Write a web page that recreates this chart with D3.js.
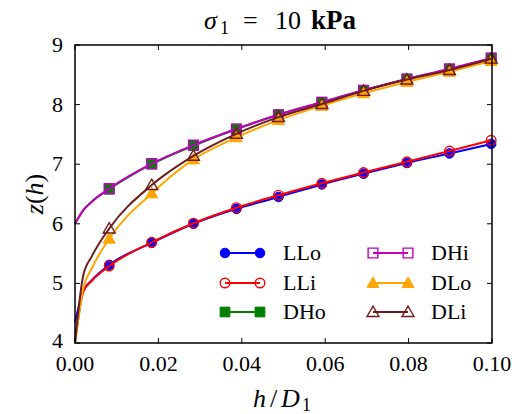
<!DOCTYPE html>
<html><head><meta charset="utf-8">
<script src="https://cdn.jsdelivr.net/npm/d3@7"></script>
<style>body{margin:0;background:#fff}svg{display:block}</style>
</head><body>
<script>
// ---- data ----
const hStart = [0, 0.002, 0.004];
const hMarkers = [0.0082, 0.0184, 0.0284, 0.0387, 0.0488, 0.0592, 0.0692, 0.0796, 0.0898, 0.0998];
const seriesNames = ["LLo", "LLi", "DHo", "DHi", "DLo", "DLi"];
const startLLo = [4.35, 4.87, 5.05];
const startLLi = [4.00, 4.86, 5.04];
const startDHo = [6.00, 6.23, 6.37];
const startDHi = [6.00, 6.23, 6.37];
const startDLo = [4.00, 4.92, 5.25];
const startDLi = [4.00, 5.14, 5.45];
const zLLo = [5.31, 5.68, 6.00, 6.25, 6.45, 6.66, 6.84, 7.02, 7.18, 7.34];
const zLLi = [5.29, 5.69, 6.01, 6.27, 6.48, 6.68, 6.86, 7.04, 7.22, 7.40];
const zDHo = [6.58, 7.00, 7.31, 7.59, 7.83, 8.04, 8.24, 8.43, 8.59, 8.78];
const zDHi = [6.59, 7.01, 7.32, 7.59, 7.83, 8.04, 8.24, 8.43, 8.60, 8.78];
const zDLo = [5.75, 6.51, 7.08, 7.45, 7.74, 7.98, 8.19, 8.38, 8.55, 8.73];
const zDLi = [5.92, 6.65, 7.14, 7.51, 7.79, 8.01, 8.23, 8.42, 8.58, 8.77];
const xTicks = [0, 0.02, 0.04, 0.06, 0.08, 0.10];
const yTicks = [4, 5, 6, 7, 8, 9];

const starts = [startLLo, startLLi, startDHo, startDHi, startDLo, startDLi];
const zs = [zLLo, zLLi, zDHo, zDHi, zDLo, zDLi];
const colors = ["#0000ff", "#ff0000", "#007f00", "#bf00bf", "#ffa500", "#6e1c1c"];
const shapes = ["circle", "circle", "square", "square", "triangle", "triangle"];
const filled = [true, false, true, false, true, false];

const FONT = "'Liberation Serif', 'Times New Roman', 'DejaVu Serif', serif";
const W = 512, H = 414;
const L = 75, R = 492, T = 45, B = 343;
const svg = d3.select("body").append("svg").attr("width", W).attr("height", H)
  .attr("font-family", FONT);
const x = d3.scaleLinear().domain([0, 0.1]).range([L, R]);
const y = d3.scaleLinear().domain([4, 9]).range([B, T]);

const sym = {circle: d3.symbolCircle, square: d3.symbolSquare, triangle: d3.symbolTriangle};
const size = {circle: 72, square: 95, triangle: 62};

function marker(g, i, px, py) {
  const s = shapes[i];
  g.append("path")
    .attr("d", d3.symbol().type(sym[s]).size(size[s])())
    .attr("transform", `translate(${px},${py + (s === "triangle" ? 1 : 0)})`)
    .attr("fill", filled[i] ? colors[i] : "none")
    .attr("stroke", colors[i])
    .attr("stroke-width", filled[i] ? 1 : 1.4);
}
function txt(sel) { return sel.append("text").attr("font-family", FONT).attr("fill", "#000"); }

const plot = svg.append("g");
const line = d3.line().x(d => x(d[0])).y(d => y(d[1])).curve(d3.curveMonotoneX);
seriesNames.forEach((name, i) => {
  const pts = hStart.map((h, k) => [h, starts[i][k]]).concat(hMarkers.map((h, k) => [h, zs[i][k]]));
  plot.append("path").attr("d", line(pts)).attr("fill", "none")
    .attr("stroke", colors[i]).attr("stroke-width", 2);
  hMarkers.forEach((h, k) => marker(plot, i, x(h), y(zs[i][k])));
});

// frame and ticks
const axes = svg.append("g").attr("stroke", "#000");
axes.append("rect").attr("x", L).attr("y", T).attr("width", R - L).attr("height", B - T)
  .attr("fill", "none").attr("stroke-width", 1.5);
xTicks.forEach(t => {
  axes.append("line").attr("x1", x(t)).attr("x2", x(t)).attr("y1", B).attr("y2", B - 5).attr("stroke-width", 1);
  axes.append("line").attr("x1", x(t)).attr("x2", x(t)).attr("y1", T).attr("y2", T + 5).attr("stroke-width", 1);
  txt(svg).attr("x", x(t)).attr("y", 371).attr("text-anchor", "middle")
    .attr("font-size", 22).text(d3.format(".2f")(t));
});
yTicks.forEach(t => {
  axes.append("line").attr("x1", L).attr("x2", L + 5).attr("y1", y(t)).attr("y2", y(t)).attr("stroke-width", 1);
  axes.append("line").attr("x1", R).attr("x2", R - 5).attr("y1", y(t)).attr("y2", y(t)).attr("stroke-width", 1);
  txt(svg).attr("x", 63).attr("y", y(t) + (t === 4 ? 5 : 7)).attr("text-anchor", "end")
    .attr("font-size", 22).text(t);
});

// title (math-style spacing)
const title = txt(svg).attr("y", 29).attr("font-size", 26);
title.append("tspan").attr("x", 204).attr("font-style", "italic").text("σ");
title.append("tspan").attr("x", 220).attr("font-size", 18).attr("dy", 5).text("1");
title.append("tspan").attr("x", 243).attr("dy", -5).text("=");
title.append("tspan").attr("x", 275).text("10");
title.append("tspan").attr("x", 311).attr("font-weight", "bold").attr("font-size", 27).text("kPa");

// x label
const xl = txt(svg).attr("y", 407).attr("font-size", 26);
xl.append("tspan").attr("x", 253).attr("font-style", "italic").text("h");
xl.append("tspan").attr("x", 270).text("/");
xl.append("tspan").attr("x", 281).attr("font-style", "italic").text("D");
xl.append("tspan").attr("x", 302).attr("font-size", 18).attr("dy", 4).text("1");

// y label
const yl = txt(svg).attr("transform", `translate(43,${(T + B) / 2}) rotate(-90)`)
  .attr("text-anchor", "middle").attr("font-size", 26);
yl.append("tspan").attr("font-style", "italic").text("z");
yl.append("tspan").text("(");
yl.append("tspan").attr("font-style", "italic").text("h");
yl.append("tspan").text(")");

// legend
const legCols = [{x1: 225, x2: 260, tx: 283}, {x1: 373, x2: 408, tx: 431}];
const legRows = [253, 283, 312];
seriesNames.forEach((name, i) => {
  const c = legCols[Math.floor(i / 3)], ry = legRows[i % 3];
  const g = svg.append("g");
  g.append("line").attr("x1", c.x1).attr("x2", c.x2).attr("y1", ry).attr("y2", ry)
    .attr("stroke", colors[i]).attr("stroke-width", 2);
  marker(g, i, c.x1, ry);
  marker(g, i, c.x2, ry);
  txt(svg).attr("x", c.tx).attr("y", ry + 7).attr("font-size", 22).text(name);
});
</script>
</body></html>
